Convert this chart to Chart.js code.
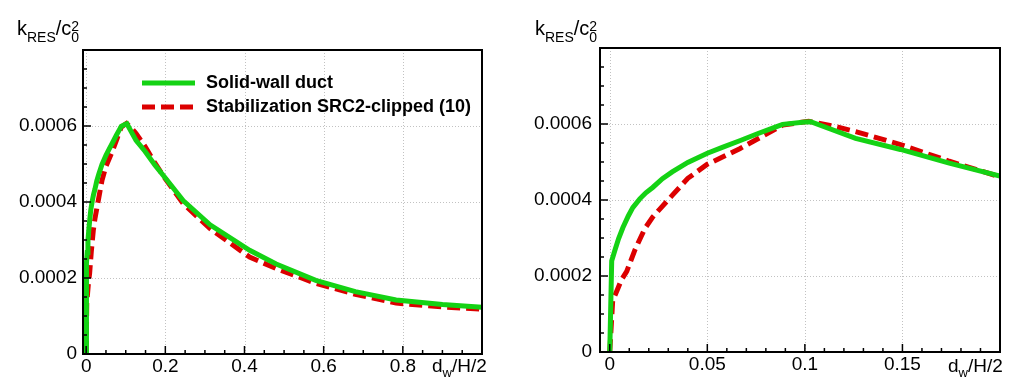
<!DOCTYPE html>
<html>
<head>
<meta charset="utf-8">
<script src="https://cdn.jsdelivr.net/npm/chart.js@4/dist/chart.umd.min.js"></script>
<style>
  html, body { margin: 0; padding: 0; background: #fff; }
  #wrap { position: relative; width: 1013px; height: 379px; }
  canvas { position: absolute; top: 0; }
  #left { left: 0; }
  #right { left: 500px; }
</style>
</head>
<body>
<div id="wrap">
  <canvas id="left" width="500" height="379"></canvas>
  <canvas id="right" width="513" height="379"></canvas>
</div>
<script>
// solid-wall duct (green)
const solidX = [0, 0.0005, 0.001, 0.0026, 0.0045, 0.0067, 0.0095, 0.0118, 0.0154, 0.0185, 0.022, 0.027, 0.032, 0.04, 0.05, 0.058, 0.0666, 0.076, 0.0855, 0.0886, 0.1, 0.103, 0.126, 0.149, 0.174, 0.2, 0.245, 0.313, 0.413, 0.48, 0.58, 0.68, 0.783, 0.9, 1.0];
const solidY = [0, 0.00012, 0.00024, 0.000267, 0.000298, 0.000327, 0.000358, 0.00038, 0.000403, 0.000419, 0.000433, 0.000456, 0.000474, 0.000499, 0.000523, 0.000539, 0.000556, 0.000575, 0.000593, 0.000599, 0.000605, 0.000606, 0.000562, 0.000533, 0.000497, 0.000463, 0.000404, 0.00034, 0.000273, 0.000237, 0.000194, 0.000164, 0.000142, 0.00013, 0.000123];

// stabilization SRC2-clipped (red, dashed)
const srcX = [0, 0.0015, 0.004, 0.006, 0.0087, 0.013, 0.018, 0.022, 0.026, 0.032, 0.04, 0.05, 0.0666, 0.078, 0.0886, 0.095, 0.102, 0.115, 0.126, 0.149, 0.174, 0.2, 0.245, 0.313, 0.413, 0.48, 0.58, 0.68, 0.783, 0.9, 1.0];
const srcY = [0, 0.000135, 0.000165, 0.00019, 0.000212, 0.00027, 0.000325, 0.000355, 0.000378, 0.000412, 0.000457, 0.000494, 0.000535, 0.000567, 0.000597, 0.000602, 0.000607, 0.000594, 0.00058, 0.000546, 0.000502, 0.000461, 0.000396, 0.00033, 0.000255, 0.000225, 0.000186, 0.000157, 0.000134, 0.000124, 0.000118];

const seriesNames = ["Solid-wall duct", "Stabilization SRC2-clipped (10)"];

const yTicks = [0, 0.0002, 0.0004, 0.0006];
const yTickLabels = ["0", "0.0002", "0.0004", "0.0006"];
const leftXTicks = [0, 0.2, 0.4, 0.6, 0.8];
const leftXTickLabels = ["0", "0.2", "0.4", "0.6", "0.8"];
const rightXTicks = [0, 0.05, 0.1, 0.15];
const rightXTickLabels = ["0", "0.05", "0.1", "0.15"];

const FONT = "'Liberation Sans', Arial, Helvetica, sans-serif";
const GREEN = "#14d214";
const RED = "#dc0000";

function steps(from, to, step) {
  const out = [];
  for (let i = 0; from + i * step <= to + step * 1e-6; i++) out.push(from + i * step);
  return out;
}

function drawK(ctx, x, base) {
  ctx.fillStyle = "#000";
  ctx.textAlign = "left";
  ctx.textBaseline = "alphabetic";
  ctx.font = `20px ${FONT}`;
  ctx.fillText("k", x, base); x += ctx.measureText("k").width;
  ctx.font = `14px ${FONT}`;
  ctx.fillText("RES", x, base + 7); x += ctx.measureText("RES").width;
  ctx.font = `20px ${FONT}`;
  ctx.fillText("/c", x, base); x += ctx.measureText("/c").width;
  ctx.font = `14px ${FONT}`;
  ctx.fillText("2", x, base - 4);
  ctx.fillText("0", x, base + 7);
}

function drawD(ctx, x, base) {
  ctx.fillStyle = "#000";
  ctx.textAlign = "left";
  ctx.textBaseline = "alphabetic";
  ctx.font = `19px ${FONT}`;
  ctx.fillText("d", x, base); x += ctx.measureText("d").width;
  ctx.font = `13px ${FONT}`;
  ctx.fillText("w", x, base + 5); x += ctx.measureText("w").width;
  ctx.font = `19px ${FONT}`;
  ctx.fillText("/H/2", x, base);
}

function decor(o) {
  return {
    id: "decor",
    beforeDatasetsDraw(chart) {
      const { ctx, chartArea: a, scales: { x, y } } = chart;
      ctx.save();
      ctx.strokeStyle = "#c2c2c2";
      ctx.lineWidth = 1;
      ctx.setLineDash([1, 2]);
      ctx.beginPath();
      o.xTicks.forEach(v => {
        const px = Math.round(x.getPixelForValue(v)) + 0.5;
        ctx.moveTo(px, a.top); ctx.lineTo(px, a.bottom);
      });
      yTicks.forEach(v => {
        const py = Math.round(y.getPixelForValue(v)) + 0.5;
        ctx.moveTo(a.left, py); ctx.lineTo(a.right, py);
      });
      ctx.stroke();
      ctx.restore();
    },
    afterDatasetsDraw(chart) {
      const { ctx, chartArea: a, scales: { x, y } } = chart;
      ctx.save();
      ctx.strokeStyle = "#000";
      ctx.lineWidth = 1.5;
      ctx.beginPath();
      o.xMinor.forEach(v => {
        const px = x.getPixelForValue(v);
        const len = o.xTicks.some(t => Math.abs(t - v) < 1e-9) ? 8 : 4;
        ctx.moveTo(px, a.bottom); ctx.lineTo(px, a.bottom - len);
      });
      steps(0, 0.00075, 0.00005).forEach(v => {
        const py = y.getPixelForValue(v);
        const len = yTicks.some(t => Math.abs(t - v) < 1e-12) ? 8 : 4;
        ctx.moveTo(a.left - 1, py); ctx.lineTo(a.left + len, py);
      });
      ctx.stroke();
      ctx.lineWidth = 2;
      ctx.strokeRect(a.left, a.top, a.right - a.left, a.bottom - a.top);

      drawK(ctx, o.titleX, 35);
      drawD(ctx, o.labelX, 372);

      if (o.legend) {
        const rows = [[GREEN, [], 83], [RED, [13, 6], 107]];
        rows.forEach(([c, dash, ly], i) => {
          ctx.strokeStyle = c;
          ctx.lineWidth = 5;
          ctx.setLineDash(dash);
          ctx.beginPath();
          ctx.moveTo(142, ly); ctx.lineTo(195, ly);
          ctx.stroke();
          ctx.setLineDash([]);
          ctx.fillStyle = "#000";
          ctx.font = `bold 18px ${FONT}`;
          ctx.textAlign = "left";
          ctx.textBaseline = "alphabetic";
          ctx.fillText(seriesNames[i], 206, ly + 4.5);
        });
      }
      ctx.restore();
    }
  };
}

function makeChart(id, o) {
  const pts = (xs, ys) => xs.map((v, i) => ({ x: v, y: ys[i] }));
  return new Chart(document.getElementById(id), {
    type: "line",
    data: {
      datasets: [
        { label: seriesNames[0], data: pts(solidX, solidY), borderColor: GREEN, borderWidth: 5, pointRadius: 0, tension: 0, borderCapStyle: "butt" },
        { label: seriesNames[1], data: pts(srcX, srcY), borderColor: RED, borderWidth: 5, borderDash: [13, 6], pointRadius: 0, tension: 0 }
      ]
    },
    plugins: [decor(o)],
    options: {
      responsive: false,
      animation: false,
      layout: { padding: { left: 0, top: o.top, right: o.padRight, bottom: 0 } },
      plugins: { legend: { display: false }, tooltip: { enabled: false } },
      scales: {
        x: {
          type: "linear",
          min: o.xMin,
          max: o.xMax,
          afterBuildTicks: s => { s.ticks = o.xTicks.map(v => ({ value: v })); },
          afterFit: s => { s.height = o.axisH; },
          grid: { display: false, drawTicks: false },
          border: { display: false },
          ticks: {
            padding: 1,
            color: "#000",
            font: { family: FONT, size: 19 },
            maxRotation: 0,
            autoSkip: false,
            callback: v => o.xLabels[o.xTicks.indexOf(v)]
          }
        },
        y: {
          min: 0,
          max: 0.0008,
          afterBuildTicks: s => { s.ticks = yTicks.map(v => ({ value: v })); },
          afterFit: s => { s.width = o.axisW; },
          grid: { display: false, drawTicks: false },
          border: { display: false },
          ticks: {
            padding: o.yPad,
            color: "#000",
            font: { family: FONT, size: 19 },
            autoSkip: false,
            callback: v => yTickLabels[yTicks.indexOf(v)]
          }
        }
      }
    }
  });
}

makeChart("left", {
  xMin: -0.008, xMax: 1.0,
  xTicks: leftXTicks, xLabels: leftXTickLabels,
  xMinor: steps(0, 0.95, 0.05),
  top: 50, padRight: 18, axisW: 83, axisH: 25, yPad: 6,
  titleX: 17, labelX: 432, legend: true
});

makeChart("right", {
  xMin: -0.005, xMax: 0.2,
  xTicks: rightXTicks, xLabels: rightXTickLabels,
  xMinor: steps(0, 0.19, 0.01),
  top: 48, padRight: 13, axisW: 100, axisH: 27, yPad: 8,
  titleX: 35, labelX: 448, legend: false
});
</script>
</body>
</html>
